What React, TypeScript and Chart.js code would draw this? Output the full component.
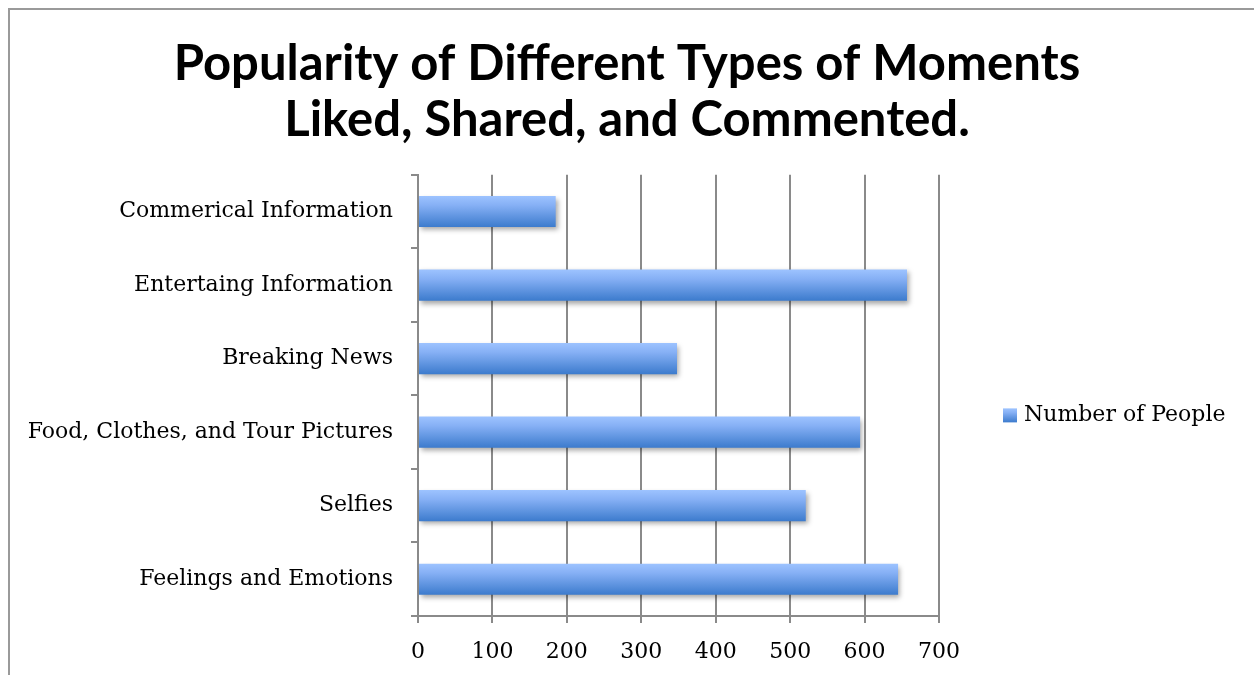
import React, { useEffect, useRef } from "react";
import { Chart, registerables } from "chart.js";

Chart.register(...registerables);

const categories = [
  "Commerical Information",
  "Entertaing Information",
  "Breaking News",
  "Food, Clothes, and Tour Pictures",
  "Selfies",
  "Feelings and Emotions",
];
const seriesName = "Number of People";
const values = [185, 657, 348, 594, 521, 645];
const titleLines = ["Popularity of Different Types of Moments", "Liked, Shared, and Commented."];

const SERIF = "'DejaVu Serif', 'Liberation Serif', serif";
const TITLE_FONT = "Lato, 'Open Sans', sans-serif";
const CAT_PCT = 0.8;
const BAR_PCT = 0.53;
const TOP_COLOR = "#9dc3ff";
const MID_COLOR = "#86b0f5";
const BOTTOM_COLOR = "#3c7bcd";

export default function App() {
  const ref = useRef<HTMLCanvasElement | null>(null);

  useEffect(() => {
    const canvas = ref.current;
    if (!canvas) return;

    const framePlugin = {
      id: "frame",
      beforeDraw(chart: any) {
        const c = chart.ctx;
        c.save();
        c.fillStyle = "#fff";
        c.fillRect(0, 0, chart.width, chart.height);
        c.strokeStyle = "#9a9a9a";
        c.lineWidth = 2;
        c.beginPath();
        c.moveTo(9, chart.height);
        c.lineTo(9, 9);
        c.lineTo(chart.width, 9);
        c.stroke();
        c.restore();
      },
    };

    const shadowPlugin = {
      id: "barShadow",
      beforeDatasetsDraw(chart: any) {
        const c = chart.ctx;
        c.save();
        c.shadowColor = "rgba(0,0,0,0.35)";
        c.shadowBlur = 5;
        c.shadowOffsetX = 2;
        c.shadowOffsetY = 3;
      },
      afterDatasetsDraw(chart: any) {
        chart.ctx.restore();
      },
    };

    const legendPlugin = {
      id: "sideLegend",
      afterDraw(chart: any) {
        const c = chart.ctx;
        const area = chart.chartArea;
        const x = area.right + 64;
        const cy = (area.top + area.bottom) / 2 + 20;
        const s = 14;
        c.save();
        const g = c.createLinearGradient(0, cy - s / 2, 0, cy + s / 2);
        g.addColorStop(0, TOP_COLOR);
        g.addColorStop(0.3, MID_COLOR);
        g.addColorStop(1, BOTTOM_COLOR);
        c.fillStyle = g;
        c.fillRect(x, cy - s / 2, s, s);
        c.fillStyle = "#000";
        c.font = `22px ${SERIF}`;
        c.textAlign = "left";
        c.textBaseline = "middle";
        c.fillText(seriesName, x + s + 7, cy);
        c.restore();
      },
    };

    const barGradient = (ctx: any) => {
      const chart = ctx.chart;
      const ys = chart.scales && chart.scales.y;
      if (!chart.chartArea || !ys || ctx.type !== "data") return MID_COLOR;
      const step = Math.abs(ys.getPixelForValue(1) - ys.getPixelForValue(0));
      const half = (step * CAT_PCT * BAR_PCT) / 2;
      const y = ys.getPixelForValue(ctx.dataIndex);
      const g = chart.ctx.createLinearGradient(0, y - half, 0, y + half);
      g.addColorStop(0, TOP_COLOR);
      g.addColorStop(0.3, MID_COLOR);
      g.addColorStop(1, BOTTOM_COLOR);
      return g;
    };

    const chart = new Chart(canvas, {
      type: "bar",
      data: {
        labels: categories,
        datasets: [
          {
            label: seriesName,
            data: values,
            backgroundColor: barGradient,
            borderWidth: 0,
            categoryPercentage: CAT_PCT,
            barPercentage: BAR_PCT,
          },
        ],
      },
      options: {
        indexAxis: "y",
        responsive: false,
        animation: false,
        devicePixelRatio: 1,
        layout: { padding: { left: 0, right: 0, top: 20, bottom: 9 } },
        plugins: {
          title: {
            display: true,
            text: titleLines,
            color: "#000",
            font: { family: TITLE_FONT, size: 49, weight: "bold", lineHeight: 1.13 },
            padding: { top: 17, bottom: 27 },
          },
          legend: { display: false },
          tooltip: { enabled: false },
        },
        scales: {
          x: {
            min: 0,
            max: 700,
            ticks: { stepSize: 100, color: "#000", font: { family: SERIF, size: 22 }, padding: 16 },
            grid: { color: "#8a8a8a", lineWidth: 2, drawTicks: true, tickLength: 7, tickColor: "#8a8a8a" },
            border: { color: "#8a8a8a", width: 2 },
            afterFit: (s: any) => {
              s.height = 50;
            },
          },
          y: {
            ticks: { color: "#000", font: { family: SERIF, size: 22 }, padding: 18 },
            grid: { drawOnChartArea: false, drawTicks: true, tickLength: 7, color: "#8a8a8a", lineWidth: 2, offset: true },
            border: { color: "#8a8a8a", width: 2 },
            afterFit: (s: any) => {
              s.width = 418;
            },
          },
          legendSpace: {
            type: "linear",
            position: "right",
            display: true,
            grid: { display: false },
            ticks: { display: false },
            border: { display: false },
            afterFit: (s: any) => {
              s.width = 315;
            },
          },
        },
      },
      plugins: [framePlugin, shadowPlugin, legendPlugin],
    });

    return () => chart.destroy();
  }, []);

  return (
    <div style={{ position: "fixed", left: 0, top: 0, width: 1254, height: 675, background: "#fff" }}>
      <canvas ref={ref} width={1254} height={675} style={{ display: "block" }} />
    </div>
  );
}
